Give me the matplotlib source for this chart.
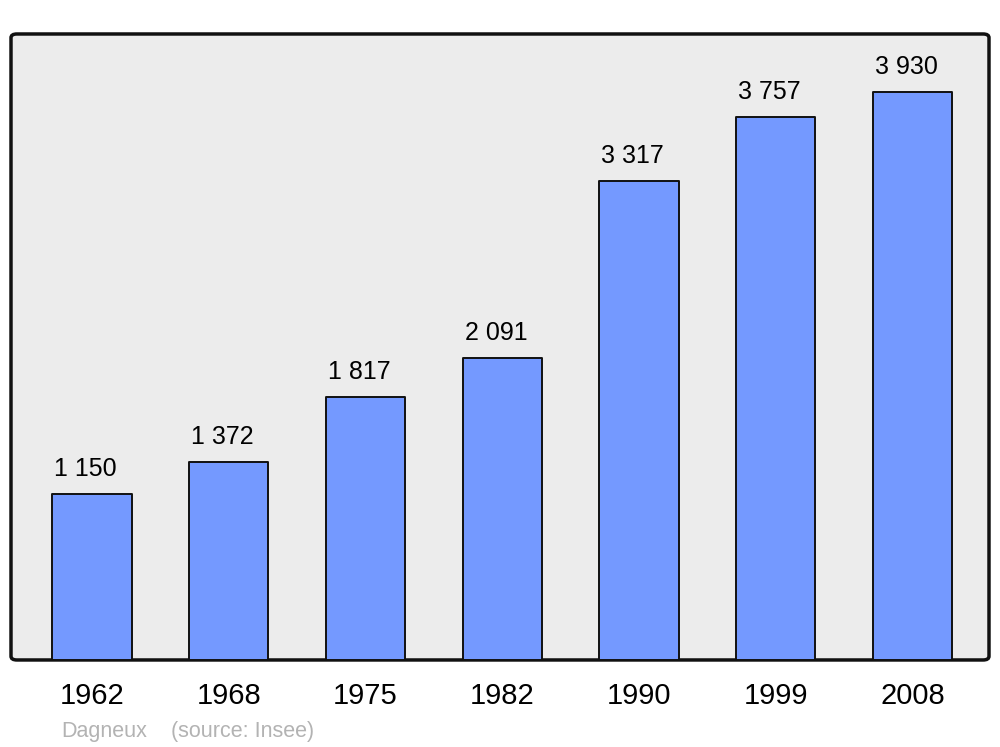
import matplotlib.pyplot as plt
from matplotlib.patches import FancyBboxPatch

# Données : population de Dagneux
annees = ['1962', '1968', '1975', '1982', '1990', '1999', '2008']
population = [1150, 1372, 1817, 2091, 3317, 3757, 3930]
etiquettes = ['1 150', '1 372', '1 817', '2 091', '3 317', '3 757', '3 930']

plt.rcParams['font.family'] = ['Liberation Sans', 'DejaVu Sans']

fig = plt.figure(figsize=(10, 7.47), dpi=100)
ax = fig.add_axes([0.011, 0.1165, 0.978, 0.838])
ax.set_facecolor('none')

# Fond gris avec coins arrondis
cadre = FancyBboxPatch((0, 0), 1, 1, boxstyle='round,pad=0,rounding_size=0.006',
                       transform=ax.transAxes, facecolor='#ececec',
                       edgecolor='#111111', linewidth=2.5, zorder=0, clip_on=False)
ax.add_patch(cadre)

x = range(len(annees))
ax.bar(x, population, width=0.58, color='#7499ff', edgecolor='#111111',
       linewidth=1.4, zorder=2, joinstyle='round')

for i, (v, t) in enumerate(zip(population, etiquettes)):
    ax.annotate(t, (i, v), xytext=(-4.5, 13), textcoords='offset points',
                ha='center', va='baseline', fontsize=18, zorder=3)

ax.set_xlim(-0.592, 6.56)
ax.set_ylim(0, 4332)
ax.set_xticks(list(x))
ax.set_xticklabels(annees, fontsize=21)
ax.tick_params(axis='x', length=0, pad=16)
ax.set_yticks([])
for s in ax.spines.values():
    s.set_visible(False)

fig.text(0.061, 0.014, 'Dagneux', color='#b3b3b3', fontsize=15.5)
fig.text(0.171, 0.014, '(source: Insee)', color='#b3b3b3', fontsize=15.5)

plt.savefig('out.png', dpi=100)
